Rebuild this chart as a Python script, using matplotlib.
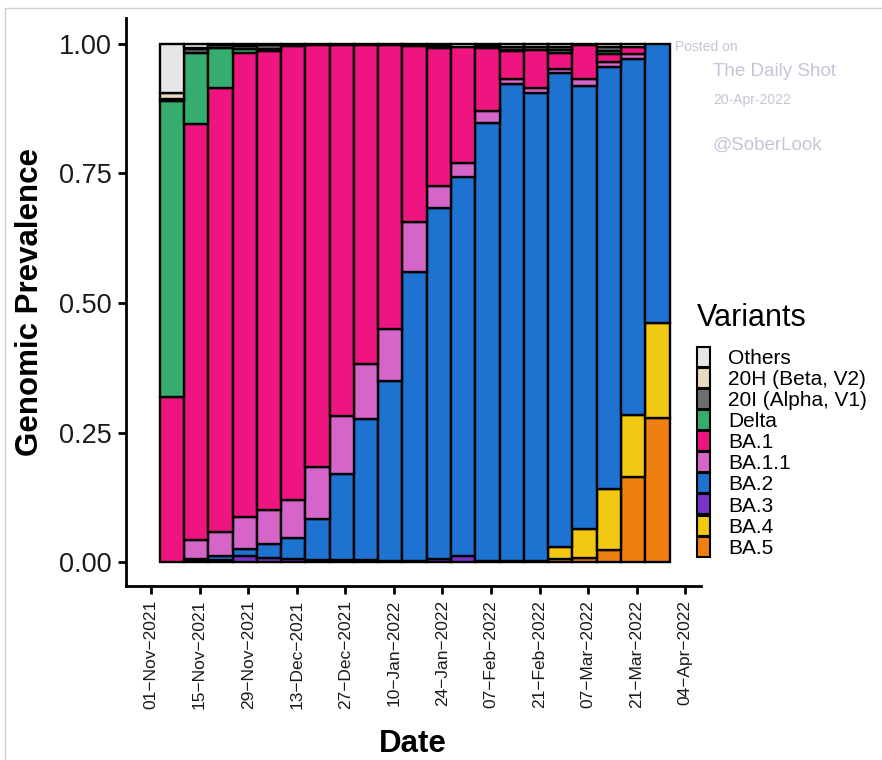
import matplotlib
matplotlib.use("Agg")
import matplotlib.pyplot as plt
import matplotlib.dates as mdates
from matplotlib.patches import Patch, Rectangle
import numpy as np
import datetime as dt

plt.rcParams['font.family'] = ['Liberation Sans', 'DejaVu Sans']

# Weekly sample dates (bar centres)
weeks = [dt.date(2021, 11, 7) + dt.timedelta(days=7 * k) for k in range(21)]

variants = ["Others", "20H (Beta, V2)", "20I (Alpha, V1)", "Delta", "BA.1",
            "BA.1.1", "BA.2", "BA.3", "BA.4", "BA.5"]
colors = ["#E6E6E6", "#EADBC0", "#6E6E6E", "#35AD6E", "#EE1580",
          "#D565C8", "#1E72D0", "#7733C8", "#F1C812", "#EF7F0E"]

# Genomic prevalence per week for each variant
others = [0.095, 0.007, 0.002, 0.004, 0.003, 0.002, 0.003, 0.002, 0.002, 0.002, 0.004,
          0.004, 0.005, 0.004, 0.005, 0.006, 0.006, 0.002, 0.006, 0.005, 0.0]
beta = [0.012, 0.003, 0.0, 0.0, 0.0, 0.0, 0.0, 0.0, 0.0, 0.0, 0.0,
        0.0, 0.0, 0.0, 0.0, 0.0, 0.0, 0.0, 0.0, 0.0, 0.0]
alpha = [0.004, 0.008, 0.006, 0.006, 0.006, 0.002, 0.0, 0.0, 0.0, 0.0, 0.0,
         0.004, 0.0, 0.004, 0.006, 0.006, 0.006, 0.0, 0.007, 0.0, 0.0]
delta = [0.571, 0.136, 0.077, 0.008, 0.004, 0.0, 0.0, 0.0, 0.0, 0.0, 0.0,
         0.0, 0.0, 0.0, 0.002, 0.0, 0.006, 0.0, 0.006, 0.0, 0.0]
ba1 = [0.318, 0.804, 0.856, 0.894, 0.887, 0.876, 0.813, 0.716, 0.615, 0.549, 0.340,
       0.267, 0.225, 0.122, 0.055, 0.073, 0.030, 0.066, 0.016, 0.015, 0.0]
ba1_1 = [0.0, 0.036, 0.047, 0.062, 0.065, 0.074, 0.101, 0.111, 0.106, 0.100, 0.096,
         0.042, 0.026, 0.023, 0.010, 0.010, 0.008, 0.013, 0.010, 0.010, 0.0]
ba2 = [0.0, 0.004, 0.007, 0.014, 0.027, 0.040, 0.078, 0.166, 0.272, 0.347, 0.558,
       0.677, 0.732, 0.845, 0.920, 0.902, 0.915, 0.855, 0.814, 0.687, 0.538]
ba3 = [0.0, 0.002, 0.005, 0.012, 0.008, 0.006, 0.005, 0.005, 0.005, 0.002, 0.002,
       0.006, 0.012, 0.002, 0.002, 0.003, 0.0, 0.0, 0.0, 0.0, 0.0]
ba4 = [0.0, 0.0, 0.0, 0.0, 0.0, 0.0, 0.0, 0.0, 0.0, 0.0, 0.0,
       0.0, 0.0, 0.0, 0.0, 0.0, 0.022, 0.056, 0.117, 0.118, 0.184]
ba5 = [0.0, 0.0, 0.0, 0.0, 0.0, 0.0, 0.0, 0.0, 0.0, 0.0, 0.0,
       0.0, 0.0, 0.0, 0.0, 0.0, 0.007, 0.008, 0.024, 0.165, 0.278]

series = [others, beta, alpha, delta, ba1, ba1_1, ba2, ba3, ba4, ba5]

fig = plt.figure(figsize=(8.82, 7.6), dpi=100)
ax = fig.add_axes([125.7 / 882, 1 - 586 / 760, (700.8 - 125.7) / 882, (586 - 18) / 760])

x = mdates.date2num(weeks)
bottom = np.zeros(len(weeks))
# stack from the bottom (BA.5) up to Others
for name, col, vals in zip(variants[::-1], colors[::-1], series[::-1]):
    v = np.asarray(vals, dtype=float)
    m = v > 0
    ax.bar(x[m], v[m], bottom=bottom[m], width=7, color=col,
           edgecolor="black", linewidth=1.7, align="center")
    bottom += v

ax.set_xlim(mdates.date2num(dt.date(2021, 10, 24)) + 0.7,
            mdates.date2num(dt.date(2022, 4, 8)) + 0.5)
ax.set_ylim(-0.046, 1.05)

tick_dates = [dt.date(2021, 11, 1) + dt.timedelta(days=14 * k) for k in range(12)]
ax.set_xticks(mdates.date2num(tick_dates))
ax.set_xticklabels([d.strftime("%d\u2212%b\u2212%Y") for d in tick_dates],
                   rotation=90, fontsize=12.5, color="#1a1a1a")
ax.set_yticks([0, 0.25, 0.5, 0.75, 1.0])
ax.set_yticklabels(["0.00", "0.25", "0.50", "0.75", "1.00"], fontsize=19.5, color="#1a1a1a")

for s in ["top", "right"]:
    ax.spines[s].set_visible(False)
for s in ["left", "bottom"]:
    ax.spines[s].set_linewidth(2.0)
ax.tick_params(axis="both", length=6, width=2.0, color="black")
ax.tick_params(axis="x", pad=4)
ax.tick_params(axis="y", pad=4)

ax.set_xlabel("Date", fontsize=22.5, fontweight="bold", labelpad=14)
ax.set_ylabel("Genomic Prevalence", fontsize=22.5, fontweight="bold", labelpad=10)

handles = [Patch(facecolor=c, edgecolor="black", linewidth=1.5) for c in colors]
leg = fig.legend(handles, variants, loc="upper left",
                 bbox_to_anchor=(697 / 882, 1 - 303 / 760), frameon=False,
                 title="Variants", title_fontsize=22, fontsize=15,
                 handlelength=0.6, handleheight=1.1, labelspacing=0.0,
                 handletextpad=0.9, borderpad=0, borderaxespad=0,
                 alignment="left")
leg._legend_box.sep = 10

wm = "#c3c6d6"
fig.text(675 / 882, 1 - 47 / 760, "Posted on", fontsize=10, color=wm, va="center")
fig.text(713 / 882, 1 - 72 / 760, "The Daily Shot", fontsize=13.5, color=wm, va="center")
fig.text(713 / 882, 1 - 100 / 760, "20-Apr-2022", fontsize=10, color=wm, va="center")
fig.text(713 / 882, 1 - 145 / 760, "@SoberLook", fontsize=13.5, color=wm, va="center")

fig.patches.append(Rectangle((5 / 882, -0.01), 1.0, 1 - 8 / 760 + 0.01,
                             transform=fig.transFigure, fill=False,
                             edgecolor="#cfcfcf", linewidth=1.0))

fig.savefig("out.png", dpi=100)
